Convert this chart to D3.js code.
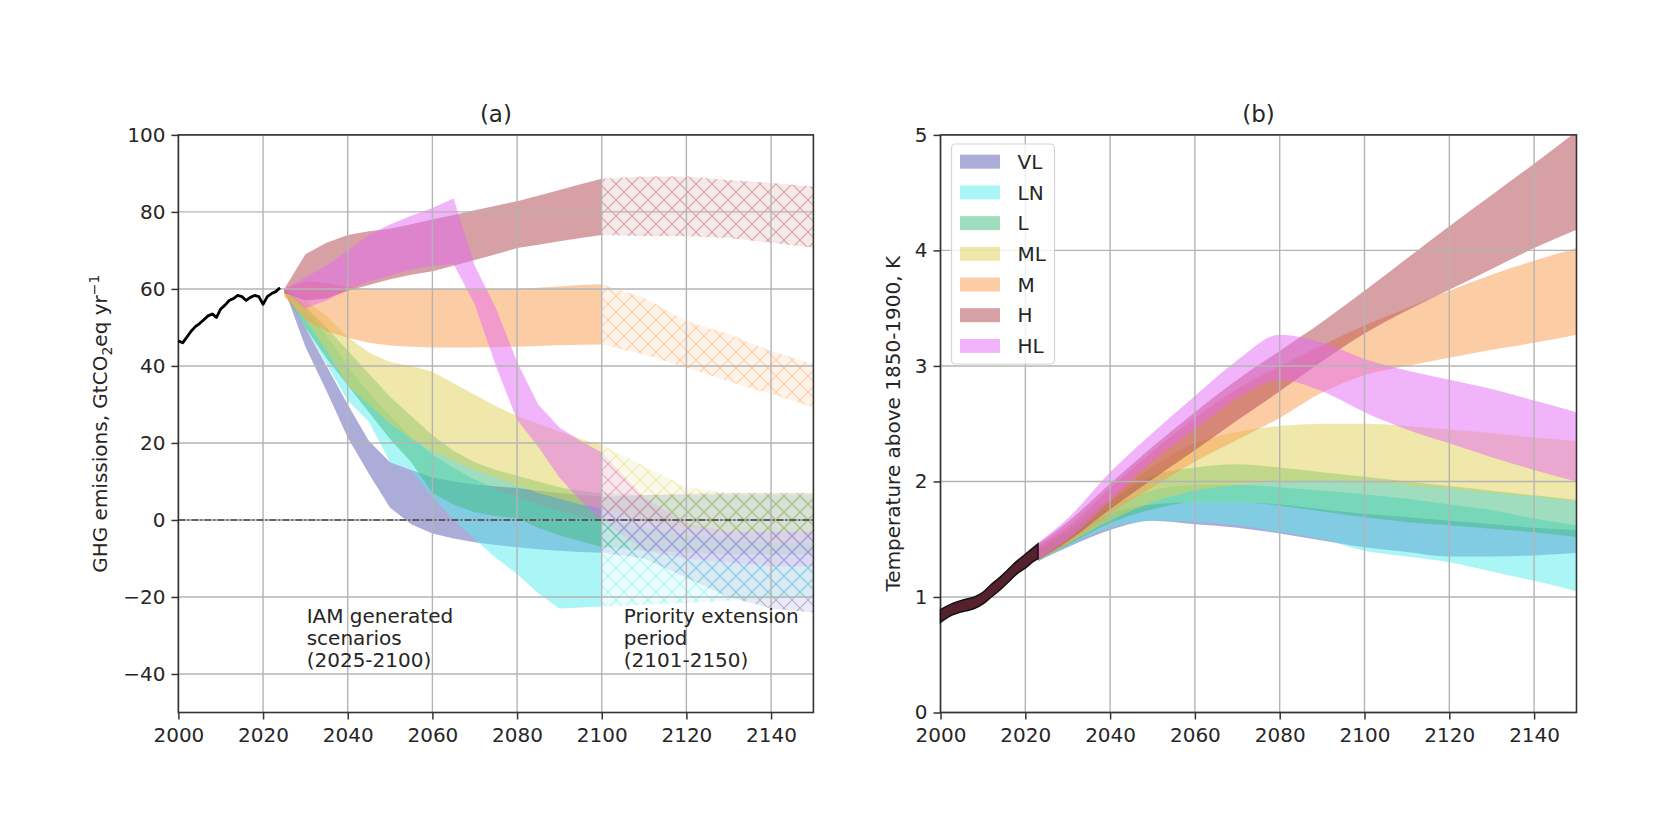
<!DOCTYPE html>
<html>
<head>
<meta charset="utf-8">
<script src="https://cdn.jsdelivr.net/npm/d3@7"></script>
<style>
  body { margin: 0; background: #fff; }
  text { font-family: 'DejaVu Sans', sans-serif; fill: #262626; }
</style>
</head>
<body>
<svg id="chart"></svg>
<script>
// scenario names and colours (legend order)
const scen = ['VL', 'LN', 'L', 'ML', 'M', 'H', 'HL'];
const scenColors = ['#5959b1', '#55ebeb', '#41b97d', '#e1d155', '#f99b4b', '#af414b', '#e468f5'];

// tick labels
const xTicks = [2000, 2020, 2040, 2060, 2080, 2100, 2120, 2140];
const yTicksA = [-40, -20, 0, 20, 40, 60, 80, 100];
const yTicksB = [0, 1, 2, 3, 4, 5];

// (a) historical GHG emissions
const histYears = [2000, 2001, 2002, 2003, 2004, 2005, 2006, 2007, 2008, 2009, 2010, 2011, 2012,
	2013, 2014, 2015, 2016, 2017, 2018, 2019, 2020, 2021, 2022, 2023, 2024];
const histEmis = [46.5, 46.0, 47.5, 49.0, 50.2, 51.0, 52.0, 53.0, 53.5, 52.6, 54.8, 55.8, 57.0,
	57.5, 58.3, 58.0, 57.0, 57.8, 58.3, 58.0, 56.0, 58.0, 58.8, 59.3, 60.3];

// (a) IAM scenario ranges 2025-2100, rows in scen order
const emisYears = [2025, 2030, 2035, 2040, 2045, 2050, 2055, 2060, 2065, 2070, 2075, 2080, 2085, 2090, 2095, 2100];
const emisLo = [
	[60, 45, 33.5, 21.4, 12, 3.2, -1.1, -3.5, -4.8, -5.8, -6.5, -7.1, -7.6, -8, -8.3, -8.5],
	[59.5, 50, 40.5, 31, 25.5, 15, 13, 6, 0, -5, -9.8, -14, -19, -23, -22.7, -22.5],
	[59, 50, 42, 35, 28, 21, 15, 7, 4, 2, 1, 0.5, -2, -4, -5.5, -7],
	[58.5, 52, 44, 35, 30, 25, 21, 18, 15.5, 13, 11, 9, 7, 5.5, 4, 3],
	[58, 52, 49, 47.3, 46, 45.3, 45, 44.8, 44.8, 44.8, 44.9, 45, 45.2, 45.4, 45.5, 45.6],
	[59, 57, 57.5, 59.5, 61, 62.5, 63.7, 64.6, 66, 67.5, 69, 70.6, 71.5, 72.4, 73.2, 74],
	[59.5, 55, 57, 60, 62, 63.5, 65, 66, 66.5, 56, 40, 26, 19, 11, 5, 0]
];
const emisHi = [
	[60, 50, 40, 30, 20.5, 15, 13, 11, 10, 9.2, 8.7, 8.3, 7.6, 7, 6.5, 6],
	[60, 55, 48, 40, 33, 27, 21.5, 17, 13.5, 10.5, 8, 6, 4, 2.5, 1, 0],
	[60, 55.5, 50, 44, 38, 32, 27, 22, 18, 15, 13, 11.5, 10, 8.5, 7.5, 7],
	[60, 57, 53, 47.5, 43.5, 41, 40, 38.5, 35.5, 32.5, 29.5, 27, 25, 23, 21, 19.5],
	[60, 62, 61.5, 60.5, 60, 60, 60, 60, 60, 60, 60, 60, 60.3, 60.6, 61, 61.2],
	[60, 69, 72, 74, 75, 75.6, 76.8, 78, 79.2, 80.4, 81.6, 82.8, 84.2, 85.7, 87.2, 88.6],
	[60, 63, 66, 70, 74, 76.7, 79, 81, 83.5, 66, 55, 41, 30, 24, 20.5, 17.5]
];

// (a) priority extension 2100-2150 (hatched)
const extYears = [2100, 2110, 2120, 2130, 2140, 2150];
const extLo = [
	[-8.5, -10, -15, -20, -23, -24],
	[-22.5, -22, -21.5, -21, -20.5, -20],
	[-7, -8, -8.5, -9, -9, -9],
	[3, 0, -2, -3, -3, -3],
	[45.6, 43, 39.6, 36, 32.7, 29.2],
	[74, 73.7, 73.7, 73.2, 72, 70.7],
	[0, -8, -10, -11, -12, -12]
];
const extHi = [
	[6, 6.5, 6.8, 7, 7, 7],
	[0, -2, -4, -5, -6, -6],
	[7, 6.5, 6.5, 6.5, 6.5, 6.5],
	[19.5, 14, 8.5, 7, 7, 7],
	[61.2, 57.7, 51.7, 48.2, 43.9, 40.5],
	[88.6, 89.2, 89.2, 88.3, 87.5, 86.6],
	[17.5, 6, -1, -3, -3, -3]
];

// (b) observed warming band
const histTempYears = [2000, 2002, 2004, 2006, 2008, 2010, 2012, 2014, 2016, 2018, 2020, 2022, 2023];
const histTempLo = [0.78, 0.83, 0.86, 0.88, 0.9, 0.94, 1.0, 1.06, 1.13, 1.2, 1.25, 1.31, 1.33];
const histTempHi = [0.89, 0.93, 0.96, 0.98, 1.0, 1.04, 1.11, 1.17, 1.24, 1.31, 1.37, 1.43, 1.46];

// (b) temperature ranges, rows in scen order
const tempYears = [2023, 2030, 2040, 2050, 2060, 2070, 2080, 2090, 2100, 2110, 2120, 2130, 2140, 2150];
const tempLo = [
	[1.31, 1.43, 1.58, 1.66, 1.63, 1.6, 1.55, 1.49, 1.43, 1.39, 1.35, 1.35, 1.36, 1.38],
	[1.31, 1.44, 1.6, 1.66, 1.65, 1.62, 1.56, 1.5, 1.4, 1.35, 1.3, 1.22, 1.14, 1.05],
	[1.32, 1.45, 1.64, 1.76, 1.82, 1.82, 1.79, 1.74, 1.69, 1.65, 1.62, 1.59, 1.56, 1.52],
	[1.32, 1.46, 1.66, 1.82, 1.92, 1.97, 2.0, 2.01, 2.0, 1.97, 1.94, 1.9, 1.87, 1.83],
	[1.32, 1.46, 1.72, 1.95, 2.17, 2.36, 2.55, 2.77, 2.92, 3.0, 3.07, 3.14, 3.2, 3.27],
	[1.32, 1.48, 1.76, 2.02, 2.27, 2.53, 2.78, 3.04, 3.28, 3.48, 3.66, 3.84, 4.02, 4.18],
	[1.33, 1.5, 1.83, 2.18, 2.45, 2.72, 2.88, 2.78, 2.6, 2.45, 2.33, 2.21, 2.1, 2.0]
];
const tempHi = [
	[1.4, 1.53, 1.72, 1.8, 1.82, 1.82, 1.8, 1.76, 1.72, 1.69, 1.66, 1.63, 1.6, 1.58],
	[1.41, 1.55, 1.78, 1.92, 1.97, 1.97, 1.95, 1.92, 1.89, 1.85, 1.8, 1.75, 1.68, 1.62],
	[1.42, 1.57, 1.83, 2.05, 2.12, 2.15, 2.12, 2.08, 2.04, 2.0, 1.96, 1.92, 1.88, 1.84],
	[1.43, 1.59, 1.86, 2.13, 2.33, 2.43, 2.48, 2.5, 2.5, 2.48, 2.45, 2.42, 2.38, 2.35],
	[1.44, 1.61, 1.94, 2.26, 2.55, 2.8, 3.0, 3.18, 3.35, 3.5, 3.65, 3.79, 3.91, 4.02],
	[1.46, 1.65, 1.98, 2.3, 2.6, 2.88, 3.13, 3.38, 3.65, 3.93, 4.21, 4.48, 4.75, 5.03],
	[1.47, 1.68, 2.08, 2.42, 2.74, 3.05, 3.27, 3.2, 3.06, 2.96, 2.88, 2.8, 2.7, 2.6]
];

//figure size and panel boxes
const totalWidth = 1665,
	totalHeight = 832,
	plotTop = 134.9,
	plotBottom = 712.5,
	panelA = { left: 178.4, right: 813.4 },
	panelB = { left: 940.5, right: 1576.5 };

const svg = d3.select('#chart').attr('width', totalWidth).attr('height', totalHeight);
const defs = svg.append('defs');

//hatch patterns for the extension period, one per scenario
scenColors.forEach((c, i) => {
	const p = defs
		.append('pattern')
		.attr('id', 'hatch' + i)
		.attr('patternUnits', 'userSpaceOnUse')
		.attr('width', 16)
		.attr('height', 16);
	p.append('rect').attr('width', 16).attr('height', 16).attr('fill', c).attr('fill-opacity', 0.12);
	p.append('path')
		.attr('d', 'M0,0L16,16M16,0L0,16')
		.attr('stroke', c)
		.attr('stroke-opacity', 0.42)
		.attr('stroke-width', 1.1);
});

function makePanel(box, yDomain, yTicks, id) {
	const x = d3.scaleLinear().domain([2000, 2150]).range([box.left, box.right]);
	const y = d3.scaleLinear().domain(yDomain).range([plotBottom, plotTop]);
	defs.append('clipPath')
		.attr('id', 'clip' + id)
		.append('rect')
		.attr('x', box.left)
		.attr('y', plotTop)
		.attr('width', box.right - box.left)
		.attr('height', plotBottom - plotTop);
	const g = svg.append('g');
	const marks = g.append('g').attr('clip-path', 'url(#clip' + id + ')');
	return { x, y, g, marks, yTicks };
}

function drawFrame(p, title, ylabel, box) {
	const grid = p.g.append('g');
	grid.selectAll('.gx')
		.data(xTicks)
		.enter()
		.append('line')
		.attr('x1', (d) => p.x(d))
		.attr('x2', (d) => p.x(d))
		.attr('y1', plotTop)
		.attr('y2', plotBottom)
		.attr('stroke', '#b4b4b4')
		.attr('stroke-width', 1.4);
	grid.selectAll('.gy')
		.data(p.yTicks)
		.enter()
		.append('line')
		.attr('x1', box.left)
		.attr('x2', box.right)
		.attr('y1', (d) => p.y(d))
		.attr('y2', (d) => p.y(d))
		.attr('stroke', '#b4b4b4')
		.attr('stroke-width', 1.4);

	const xAxis = d3.axisBottom(p.x).tickValues(xTicks).tickFormat(d3.format('d'))
		.tickSize(7).tickSizeOuter(0).tickPadding(8);
	const yAxis = d3.axisLeft(p.y).tickValues(p.yTicks).tickFormat(d3.format('d'))
		.tickSize(7).tickSizeOuter(0).tickPadding(6);

	const ax = p.g.append('g').attr('transform', 'translate(0,' + plotBottom + ')').call(xAxis);
	const ay = p.g.append('g').attr('transform', 'translate(' + box.left + ',0)').call(yAxis);
	[ax, ay].forEach((a) => {
		a.select('.domain').remove();
		a.selectAll('line').attr('stroke', '#333').attr('stroke-width', 1.5);
		a.selectAll('text').style('font-size', '20px').attr('fill', '#262626');
	});

	p.g.append('rect')
		.attr('x', box.left)
		.attr('y', plotTop)
		.attr('width', box.right - box.left)
		.attr('height', plotBottom - plotTop)
		.attr('fill', 'none')
		.attr('stroke', '#333')
		.attr('stroke-width', 1.6);

	p.g.append('text')
		.attr('x', (box.left + box.right) / 2)
		.attr('y', 122)
		.attr('text-anchor', 'middle')
		.style('font-size', '23px')
		.text(title);
	return p.g.append('text')
		.attr('transform', 'translate(' + ylabel.x + ',' + (plotTop + plotBottom) / 2 + ') rotate(-90)')
		.attr('text-anchor', 'middle')
		.style('font-size', '20px');
}

// ---------------- panel (a) ----------------
const pa = makePanel(panelA, [-50, 100], yTicksA, 'a');

scen.forEach((s, i) => {
	const area = d3.area()
		.x((d) => pa.x(d[0]))
		.y0((d) => pa.y(d[1]))
		.y1((d) => pa.y(d[2]));
	const solid = emisYears.map((yr, j) => [yr, emisLo[i][j], emisHi[i][j]]);
	pa.marks.append('path')
		.attr('d', area(solid))
		.attr('fill', scenColors[i])
		.attr('fill-opacity', 0.5);
	const ext = extYears.map((yr, j) => [yr, extLo[i][j], extHi[i][j]]);
	pa.marks.append('path')
		.attr('d', area(ext))
		.attr('fill', 'url(#hatch' + i + ')');
});

const labelA = drawFrame(pa, '(a)', { x: 107 }, panelA);
labelA.append('tspan').text('GHG emissions, GtCO');
labelA.append('tspan').attr('dy', 5).style('font-size', '14px').text('2');
labelA.append('tspan').attr('dy', -5).text('eq yr');
labelA.append('tspan').attr('dy', -8).style('font-size', '14px').text('\u22121');

//zero line
pa.g.append('line')
	.attr('x1', panelA.left)
	.attr('x2', panelA.right)
	.attr('y1', pa.y(0))
	.attr('y2', pa.y(0))
	.attr('stroke', '#222')
	.attr('stroke-opacity', 0.8)
	.attr('stroke-width', 1.4)
	.attr('stroke-dasharray', '7,2,2,2');

//historical emissions
pa.g.append('path')
	.datum(histYears.map((yr, j) => [yr, histEmis[j]]))
	.attr('d', d3.line().x((d) => pa.x(d[0])).y((d) => pa.y(d[1])))
	.attr('fill', 'none')
	.attr('stroke', '#000')
	.attr('stroke-width', 2.8)
	.attr('stroke-linejoin', 'round');

//period annotations
[
	{ x: 2030.3, lines: ['IAM generated', 'scenarios', '(2025-2100)'] },
	{ x: 2105.2, lines: ['Priority extension', 'period', '(2101-2150)'] }
].forEach((a) => {
	const t = pa.g.append('text').attr('x', pa.x(a.x)).attr('y', 623).style('font-size', '20px');
	a.lines.forEach((l, k) => {
		t.append('tspan').attr('x', pa.x(a.x)).attr('dy', k === 0 ? 0 : 22).text(l);
	});
});

// ---------------- panel (b) ----------------
const pb = makePanel(panelB, [0, 5], yTicksB, 'b');

scen.forEach((s, i) => {
	const area = d3.area()
		.curve(d3.curveMonotoneX)
		.x((d) => pb.x(d[0]))
		.y0((d) => pb.y(d[1]))
		.y1((d) => pb.y(d[2]));
	pb.marks.append('path')
		.attr('d', area(tempYears.map((yr, j) => [yr, tempLo[i][j], tempHi[i][j]])))
		.attr('fill', scenColors[i])
		.attr('fill-opacity', 0.5);
});

const labelB = drawFrame(pb, '(b)', { x: 900 }, panelB);
labelB.text('Temperature above 1850-1900, K');

//observed band
pb.g.append('path')
	.attr('d', d3.area()
		.curve(d3.curveMonotoneX)
		.x((d) => pb.x(d[0]))
		.y0((d) => pb.y(d[1]))
		.y1((d) => pb.y(d[2]))(histTempYears.map((yr, j) => [yr, histTempLo[j], histTempHi[j]])))
	.attr('fill', '#55212f')
	.attr('stroke', '#111')
	.attr('stroke-width', 1.5);

//legend
const legend = pb.g.append('g');
legend.append('rect')
	.attr('x', 951.5)
	.attr('y', 144)
	.attr('width', 103)
	.attr('height', 220)
	.attr('rx', 4)
	.attr('fill', '#fff')
	.attr('fill-opacity', 0.8)
	.attr('stroke', '#d4d4d4')
	.attr('stroke-width', 1.2);
const item = legend.selectAll('.item')
	.data(scen)
	.enter()
	.append('g')
	.attr('transform', (d, i) => 'translate(0,' + (161.7 + i * 30.7) + ')');
item.append('rect')
	.attr('x', 960)
	.attr('y', -7)
	.attr('width', 40)
	.attr('height', 14)
	.attr('fill', (d, i) => scenColors[i])
	.attr('fill-opacity', 0.5);
item.append('text')
	.attr('x', 1017.5)
	.attr('dy', '0.36em')
	.style('font-size', '20px')
	.text((d) => d);
</script>
</body>
</html>
